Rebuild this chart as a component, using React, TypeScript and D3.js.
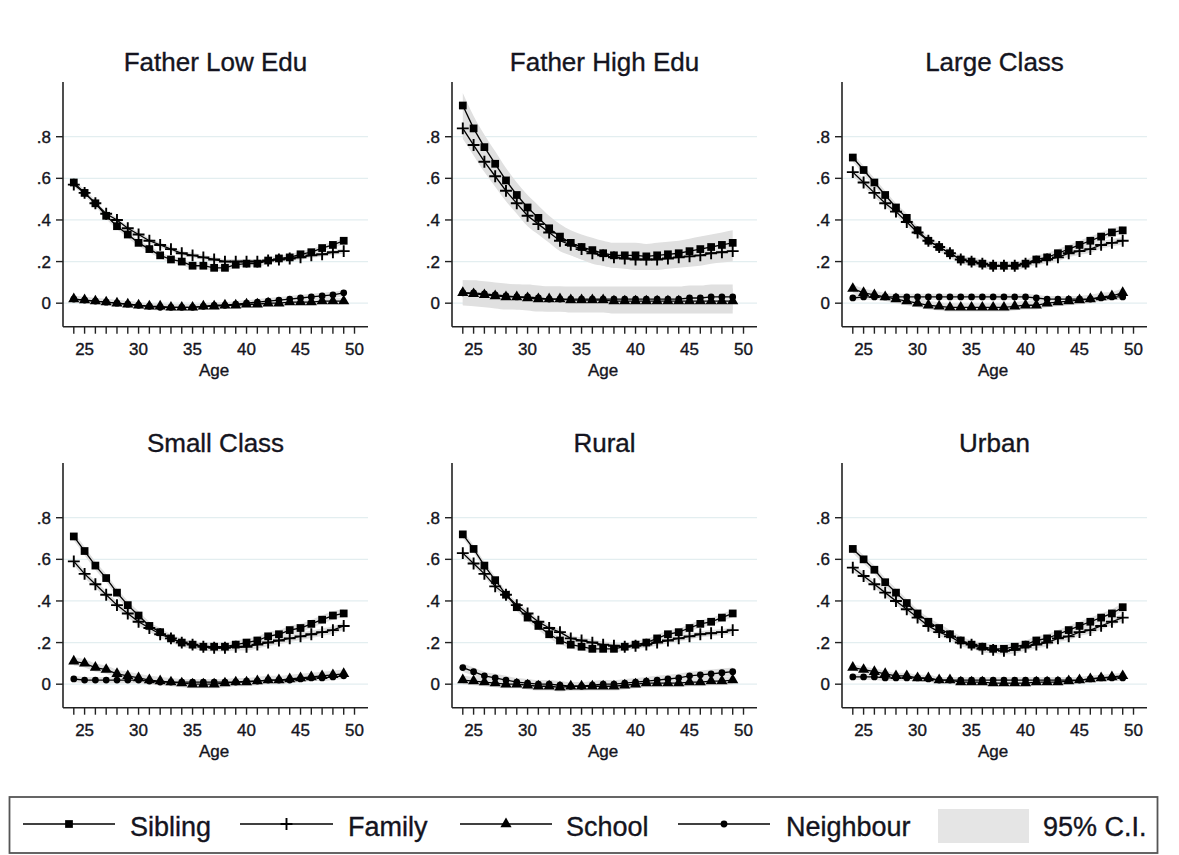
import React from "react";
import * as d3 from "d3";

const AGES = [24,25,26,27,28,29,30,31,32,33,34,35,36,37,38,39,40,41,42,43,44,45,46,47,48,49];
const X_TICK_LABELS = [25,30,35,40,45,50];
const X_MINOR_TICKS = [24,25,26,27,28,29,30,31,32,33,34,35,36,37,38,39,40,41,42,43,44,45,46,47,48,49,50];
const Y_TICKS = [0,0.2,0.4,0.6,0.8];
const Y_TICK_LABELS = ["0",".2",".4",".6",".8"];
const PANEL_TITLES = ["Father Low Edu","Father High Edu","Large Class","Small Class","Rural","Urban"];
const SERIES_NAMES = ["Sibling","Family","School","Neighbour"];

// Father Low Edu
const lowEduSibling = [.58,.53,.48,.42,.37,.33,.29,.26,.23,.21,.20,.18,.18,.17,.17,.185,.19,.19,.205,.215,.22,.235,.245,.265,.28,.30];
const lowEduFamily = [.57,.53,.48,.43,.40,.36,.33,.30,.28,.26,.24,.23,.22,.21,.20,.20,.20,.20,.205,.21,.215,.22,.23,.235,.245,.25];
const lowEduSchool = [.02,.015,.01,.005,0,-.005,-.01,-.015,-.015,-.02,-.02,-.02,-.015,-.015,-.01,-.01,-.005,-.005,0,0,.005,.005,.005,.01,.01,.01];
const lowEduNeighbour = [.02,.015,.01,.005,0,-.005,-.01,-.015,-.02,-.02,-.02,-.02,-.015,-.01,-.01,-.005,0,.005,.01,.015,.02,.025,.03,.035,.04,.05];
const lowEduCI = [.015,.012,.015,.015];

// Father High Edu
const highEduSibling = [.95,.84,.75,.67,.59,.52,.46,.41,.36,.32,.29,.27,.255,.24,.23,.23,.23,.225,.23,.235,.24,.25,.26,.27,.28,.29];
const highEduFamily = [.84,.76,.68,.61,.54,.48,.42,.38,.34,.30,.28,.26,.24,.23,.22,.215,.21,.21,.21,.215,.22,.225,.23,.24,.245,.25];
const highEduSchool = [.05,.045,.04,.035,.03,.03,.025,.02,.02,.02,.015,.015,.015,.015,.01,.01,.01,.01,.01,.01,.01,.01,.01,.01,.01,.01];
const highEduNeighbour = [.05,.05,.045,.04,.035,.03,.03,.025,.02,.02,.02,.02,.02,.02,.02,.02,.02,.02,.02,.02,.02,.025,.025,.03,.03,.03];
const highEduCI = [.06,.05,.06,.06];

// Large Class
const largeSibling = [.70,.64,.58,.52,.46,.41,.35,.30,.27,.24,.21,.20,.19,.18,.18,.18,.19,.21,.22,.24,.26,.28,.30,.32,.34,.35];
const largeFamily = [.63,.58,.53,.48,.44,.39,.34,.30,.27,.24,.21,.20,.19,.18,.18,.18,.19,.20,.21,.22,.24,.25,.26,.28,.29,.30];
const largeSchool = [.07,.05,.04,.03,.02,.01,0,-.01,-.015,-.02,-.02,-.02,-.02,-.02,-.02,-.015,-.01,-.01,0,.005,.01,.015,.02,.03,.035,.05];
const largeNeighbour = [.025,.03,.03,.03,.03,.03,.03,.03,.03,.03,.03,.03,.03,.03,.03,.03,.03,.025,.02,.02,.02,.02,.02,.025,.03,.03];
const largeCI = [.02,.018,.02,.015];

// Small Class
const smallSibling = [.71,.64,.57,.51,.44,.38,.33,.28,.25,.22,.20,.19,.18,.18,.18,.19,.20,.21,.23,.24,.26,.27,.29,.31,.33,.34];
const smallFamily = [.59,.53,.48,.43,.38,.34,.30,.27,.24,.22,.20,.19,.18,.175,.175,.18,.18,.19,.20,.21,.22,.23,.24,.25,.26,.28];
const smallSchool = [.11,.10,.08,.07,.05,.04,.03,.02,.015,.01,.005,0,0,0,.005,.01,.01,.015,.02,.02,.025,.03,.035,.04,.045,.05];
const smallNeighbour = [.025,.02,.02,.02,.02,.02,.02,.015,.01,.01,.01,.01,.01,.01,.01,.01,.015,.015,.02,.02,.02,.025,.03,.03,.035,.04];
const smallCI = [.02,.018,.02,.015];

// Rural
const ruralSibling = [.72,.65,.57,.50,.43,.37,.32,.28,.24,.21,.19,.18,.17,.17,.17,.18,.19,.20,.22,.24,.25,.27,.29,.30,.32,.34];
const ruralFamily = [.63,.58,.53,.47,.43,.38,.34,.30,.27,.25,.22,.21,.20,.19,.185,.18,.185,.19,.20,.21,.22,.23,.24,.245,.25,.26];
const ruralSchool = [.02,.015,.01,.005,0,0,-.005,-.01,-.01,-.015,-.01,-.01,-.01,-.01,-.01,-.005,0,.005,.005,.005,.005,.01,.01,.015,.015,.02];
const ruralNeighbour = [.08,.06,.04,.03,.02,.01,.005,0,0,-.005,-.01,-.01,-.005,0,0,.005,.01,.015,.02,.025,.03,.04,.045,.05,.055,.06];
const ruralCI = [.018,.015,.02,.02];

// Urban
const urbanSibling = [.65,.60,.55,.49,.44,.39,.34,.30,.27,.24,.21,.19,.18,.17,.17,.18,.19,.21,.22,.24,.26,.28,.30,.32,.34,.37];
const urbanFamily = [.56,.52,.48,.44,.40,.36,.32,.28,.25,.23,.20,.19,.17,.165,.16,.165,.18,.19,.20,.22,.23,.25,.26,.28,.30,.32];
const urbanSchool = [.08,.07,.06,.05,.04,.04,.03,.03,.02,.02,.01,.01,.01,.005,.005,.005,.005,.01,.01,.01,.015,.02,.025,.03,.035,.04];
const urbanNeighbour = [.035,.035,.035,.03,.03,.03,.03,.025,.02,.02,.02,.02,.02,.02,.02,.02,.02,.02,.02,.02,.02,.02,.025,.03,.03,.03];
const urbanCI = [.02,.018,.015,.015];

const PANELS = [
  { title: PANEL_TITLES[0], series: [lowEduSibling, lowEduFamily, lowEduSchool, lowEduNeighbour], ci: lowEduCI },
  { title: PANEL_TITLES[1], series: [highEduSibling, highEduFamily, highEduSchool, highEduNeighbour], ci: highEduCI },
  { title: PANEL_TITLES[2], series: [largeSibling, largeFamily, largeSchool, largeNeighbour], ci: largeCI },
  { title: PANEL_TITLES[3], series: [smallSibling, smallFamily, smallSchool, smallNeighbour], ci: smallCI },
  { title: PANEL_TITLES[4], series: [ruralSibling, ruralFamily, ruralSchool, ruralNeighbour], ci: ruralCI },
  { title: PANEL_TITLES[5], series: [urbanSibling, urbanFamily, urbanSchool, urbanNeighbour], ci: urbanCI },
];

const FONT = "'Liberation Sans', Arial, Helvetica, sans-serif";
const AXIS_X = [63, 452, 842];
const ROW_OFFSET = [0, 381];
const PLOT_W = 305;
const BAND = "#e0e0e0";
const GRID = "#e3eef0";
const TEXT_FILL = "#141420";
const TEXT_STROKE = { stroke: "#141420", strokeWidth: 0.35 };

const symbolTypes = [d3.symbolSquare, d3.symbolPlus, d3.symbolTriangle, d3.symbolCircle];
const symbolSizes = [60, 48, 54, 36];

function Marker({ k, x, y }: { k: number; x: number; y: number }) {
  const d = d3.symbol(symbolTypes[k], symbolSizes[k])() as string;
  const stroked = k === 1;
  return (
    <path
      d={d}
      transform={`translate(${x},${y})`}
      fill={stroked ? "none" : "#000"}
      stroke={stroked ? "#000" : "none"}
      strokeWidth={stroked ? 1.9 : 0}
    />
  );
}

function Panel({ idx }: { idx: number }) {
  const p = PANELS[idx];
  const col = idx % 3;
  const row = Math.floor(idx / 3);
  const ax = AXIS_X[col];
  const off = ROW_OFFSET[row];
  const x = d3.scaleLinear().domain([23, 51.25]).range([ax, ax + PLOT_W]);
  const y = d3.scaleLinear().domain([-0.113, 1.063]).range([326.7 + off, 82 + off]);
  const yBottom = 326.7 + off;
  const yTop = 82 + off;
  const line = d3.line<number>().x((_, i) => x(AGES[i])).y((v) => y(v));
  return (
    <g>
      <text x={ax + PLOT_W / 2} y={71 + off} textAnchor="middle" fontSize={26} fontFamily={FONT} fill={TEXT_FILL} {...TEXT_STROKE}>
        {p.title}
      </text>
      {Y_TICKS.map((t) => (
        <line key={"g" + t} x1={ax} x2={ax + PLOT_W} y1={y(t)} y2={y(t)} stroke={GRID} strokeWidth={1.3} />
      ))}
      {p.series.map((s, k) => {
        const area = d3
          .area<number>()
          .x((_, i) => x(AGES[i]))
          .y0((v) => y(v - p.ci[k]))
          .y1((v) => y(v + p.ci[k]))
          .curve(d3.curveMonotoneX);
        return <path key={"b" + k} d={area(s) as string} fill={BAND} />;
      })}
      {p.series.map((s, k) => (
        <path key={"l" + k} d={line(s) as string} fill="none" stroke="#000" strokeWidth={1.3} />
      ))}
      {p.series.map((s, k) =>
        s.map((v, i) => <Marker key={"m" + k + "-" + i} k={k} x={x(AGES[i])} y={y(v)} />)
      )}
      <line x1={ax} x2={ax} y1={yTop} y2={yBottom} stroke="#222" strokeWidth={1.6} />
      <line x1={ax} x2={ax + PLOT_W} y1={yBottom} y2={yBottom} stroke="#222" strokeWidth={1.6} />
      {Y_TICKS.map((t, i) => (
        <g key={"yt" + t}>
          <line x1={ax - 7} x2={ax} y1={y(t)} y2={y(t)} stroke="#222" strokeWidth={1.4} />
          <text x={ax - 12} y={y(t)} dy="0.36em" textAnchor="end" fontSize={17} fontFamily={FONT} fill={TEXT_FILL} {...TEXT_STROKE}>
            {Y_TICK_LABELS[i]}
          </text>
        </g>
      ))}
      {X_MINOR_TICKS.map((t) => (
        <line key={"xt" + t} x1={x(t)} x2={x(t)} y1={yBottom} y2={yBottom + 7} stroke="#222" strokeWidth={1.4} />
      ))}
      {X_TICK_LABELS.map((t) => (
        <text key={"xl" + t} x={x(t)} y={355 + off} textAnchor="middle" fontSize={17} fontFamily={FONT} fill={TEXT_FILL} {...TEXT_STROKE}>
          {t}
        </text>
      ))}
      <text x={x(37)} y={376 + off} textAnchor="middle" fontSize={17} fontFamily={FONT} fill={TEXT_FILL} {...TEXT_STROKE}>
        Age
      </text>
    </g>
  );
}

const LEGEND_LINES = [
  [23, 115],
  [240, 333],
  [460, 552],
  [678, 770],
];
const LEGEND_TEXT_X = [130, 348, 566, 786];

function Legend() {
  const cy = 824;
  return (
    <g>
      <rect x={9.5} y={797} width={1148} height={56} fill="#fff" stroke="#555" strokeWidth={1.8} />
      {SERIES_NAMES.map((name, k) => {
        const [x1, x2] = LEGEND_LINES[k];
        return (
          <g key={name}>
            <line x1={x1} x2={x2} y1={cy} y2={cy} stroke="#000" strokeWidth={1.6} />
            <Marker k={k} x={(x1 + x2) / 2} y={cy} />
            <text x={LEGEND_TEXT_X[k]} y={cy + 12} fontSize={27} fontFamily={FONT} fill={TEXT_FILL} {...TEXT_STROKE}>
              {name}
            </text>
          </g>
        );
      })}
      <rect x={938} y={809} width={91} height={34} fill="#e5e5e5" />
      <text x={1043} y={cy + 12} fontSize={27} fontFamily={FONT} fill={TEXT_FILL} {...TEXT_STROKE}>
        95% C.I.
      </text>
    </g>
  );
}

export default function App() {
  return (
    <svg
      width={1179}
      height={855}
      style={{ position: "absolute", left: 0, top: 0, background: "#fff" }}
      xmlns="http://www.w3.org/2000/svg"
    >
      <rect x={0} y={0} width={1179} height={855} fill="#fff" />
      {PANELS.map((_, i) => (
        <Panel key={i} idx={i} />
      ))}
      <Legend />
    </svg>
  );
}
